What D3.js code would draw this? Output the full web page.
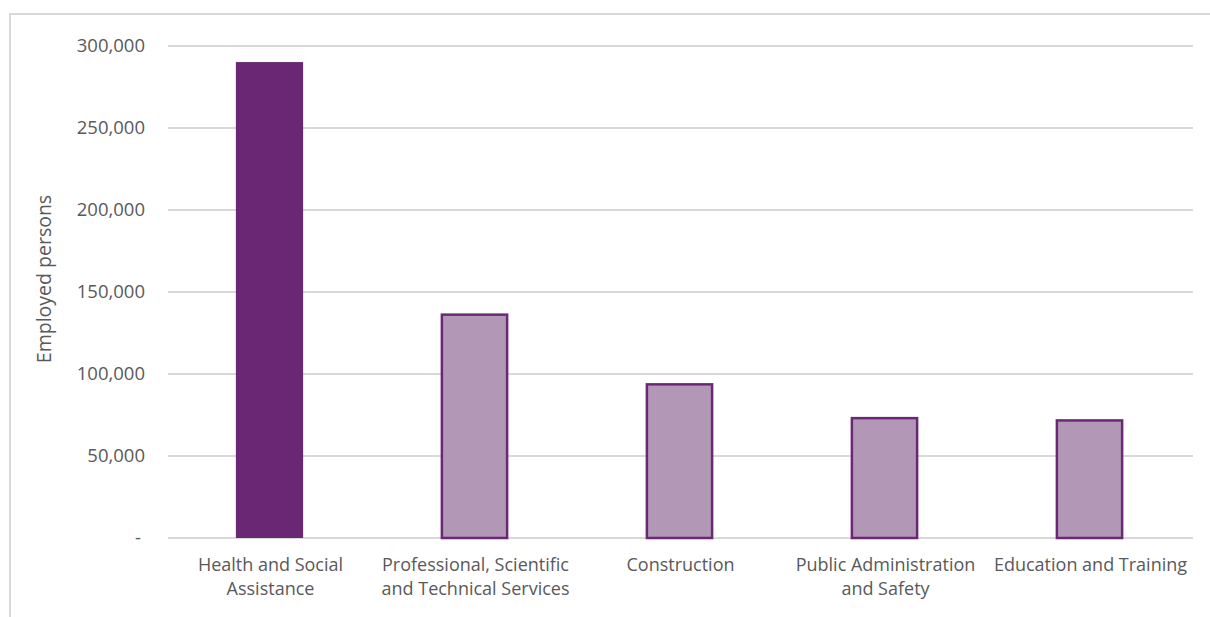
<!DOCTYPE html>
<html>
<head>
<meta charset="utf-8">
<script src="https://cdn.jsdelivr.net/npm/d3@7"></script>
<style>
  html, body { margin: 0; padding: 0; background: #fff; }
  svg { display: block; }
  text { font-family: "Open Sans", "Noto Sans", sans-serif; fill: #595959; }
</style>
</head>
<body>
<svg id="chart" width="1210" height="617"></svg>
<script>
// Employed persons by industry
const categories = [
  ["Health and Social", "Assistance"],
  ["Professional, Scientific", "and Technical Services"],
  ["Construction"],
  ["Public Administration", "and Safety"],
  ["Education and Training"]
];
const employed = [290200, 136800, 94300, 73700, 72300];
const highlighted = [true, false, false, false, false];
const yTicks = [0, 50000, 100000, 150000, 200000, 250000, 300000];

const svg = d3.select("#chart");
const W = 1210, H = 617;
const margin = { left: 168, right: 17, top: 46, bottom: 79 };

// outer frame (top and left edges)
svg.append("path")
  .attr("d", `M10,${H} L10,14 L${W},14`)
  .attr("fill", "none")
  .attr("stroke", "#d9d9d9")
  .attr("stroke-width", 2);

const x = d3.scaleBand()
  .domain(d3.range(categories.length))
  .range([margin.left, W - margin.right])
  .paddingInner(0.672)
  .paddingOuter(0.336);

const y = d3.scaleLinear()
  .domain([0, 300000])
  .range([H - margin.bottom, margin.top]);

// gridlines
svg.append("g")
  .selectAll("line")
  .data(yTicks)
  .join("line")
  .attr("x1", margin.left)
  .attr("x2", W - margin.right)
  .attr("y1", d => y(d))
  .attr("y2", d => y(d))
  .attr("stroke", "#d9d9d9")
  .attr("stroke-width", 2);

// y axis labels
const yAxis = d3.axisLeft(y)
  .tickValues(yTicks)
  .tickSize(0)
  .tickPadding(23)
  .tickFormat(d => d === 0 ? "-" : d3.format(",")(d));

const gy = svg.append("g")
  .attr("transform", `translate(${margin.left},0)`)
  .call(yAxis);
gy.select(".domain").remove();
gy.selectAll("text")
  .attr("font-size", 18.5)
  .style("fill", "#595959")
  .style("font-family", "\"Open Sans\", sans-serif");
gy.selectAll(".tick").filter(d => d === 0).select("text").attr("dx", -4);

// bars
svg.append("g")
  .selectAll("rect")
  .data(employed)
  .join("rect")
  .attr("x", (d, i) => x(i) - 1 + (highlighted[i] ? 0 : 1))
  .attr("width", (d, i) => x.bandwidth() - (highlighted[i] ? 0 : 2))
  .attr("y", (d, i) => y(d) + (highlighted[i] ? 0 : 1))
  .attr("height", (d, i) => y(0) - y(d) - (highlighted[i] ? 0 : 1))
  .attr("fill", (d, i) => highlighted[i] ? "#6a2874" : "#b297b6")
  .attr("stroke", (d, i) => highlighted[i] ? "none" : "#6a2874")
  .attr("stroke-width", 2.5);

// category labels
const xl = svg.append("g")
  .selectAll("text")
  .data(categories)
  .join("text")
  .attr("x", (d, i) => x(i) + x.bandwidth() / 2)
  .attr("y", 571)
  .attr("text-anchor", "middle")
  .attr("font-size", 18);
xl.selectAll("tspan")
  .data(d => d)
  .join("tspan")
  .attr("x", function () { return this.parentNode.getAttribute("x"); })
  .attr("dy", (d, i) => i === 0 ? 0 : 24)
  .text(d => d);

// y axis title
svg.append("text")
  .attr("transform", "translate(51,279) rotate(-90)")
  .attr("text-anchor", "middle")
  .attr("font-size", 19.5)
  .text("Employed persons");
</script>
</body>
</html>
